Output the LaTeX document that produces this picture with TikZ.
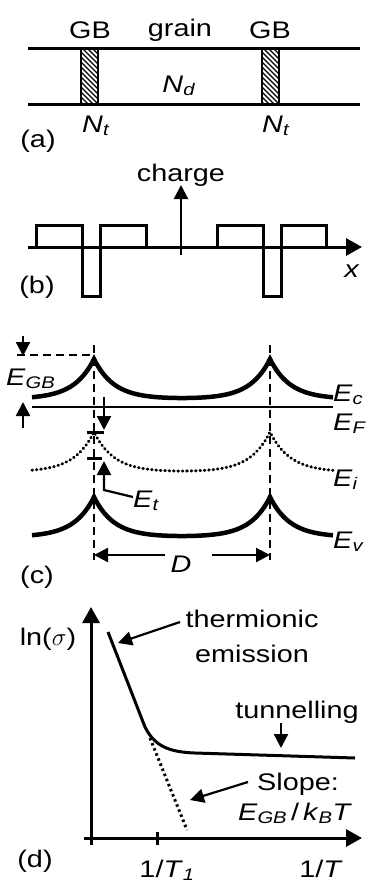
\documentclass[tikz,border=0pt]{standalone}
\usepackage{fontspec}
\setmainfont{Liberation Sans}[FakeStretch=1.2]
\usetikzlibrary{arrows.meta, positioning, calc}
\newcommand{\bandvar}[2]{\textit{#1}\textsubscript{\textit{#2}}}

\begin{document}
\begin{tikzpicture}[x=1pt, y=-1pt,
    every node/.style={font=\fontsize{24}{28}\selectfont, inner sep=0pt},
    lbl/.style={anchor=base},
    heavy/.style={line width=3pt},
    band/.style={line width=4.5pt},
    dots/.style={line width=3pt, line cap=round, dash pattern=on 0.6pt off 3.8pt},
    guide/.style={line width=2pt, dash pattern=on 8pt off 5pt},
    arr/.style={line width=2.2pt, -{Triangle[length=14pt,width=14pt]}},
    bigarr/.style={line width=3pt, -{Triangle[length=16pt,width=17pt]}}]
    \useasboundingbox (0,0) rectangle (371,887);

    % (a) film with two grain boundaries
    \draw[heavy] (28,48) -- (360,48);
    \draw[heavy] (28,104) -- (360,104);
    \foreach \gx in {81,262} {
        \begin{scope}
            \clip (\gx,48) rectangle (\gx+17,104);
            \foreach \k in {0,...,17}
                \draw[line width=1.4pt] (\gx-4,{28+\k*5}) -- ++(30,30);
        \end{scope}
        \draw[line width=1.6pt] (\gx,48) rectangle (\gx+17,104);
    }
    \node[lbl] (gbL) at (90,38) {GB};
    \node[lbl] (grain) at (180,36) {grain};
    \node[lbl] (gbR) at (270,38) {GB};
    \node[lbl] (nd) at (179,92) {\bandvar{N}{d}};
    \node[lbl] (ntL) at (96,132) {\bandvar{N}{t}};
    \node[lbl] (ntR) at (276,132) {\bandvar{N}{t}};
    \node[lbl] (tagA) at (38,147) {(a)};

    % (b) charge distribution
    \draw[bigarr] (28,247) -- (362,247);
    \draw[arr] (181,255) -- (181,185);
    \draw[heavy] (36,247) -- (36,225) -- (82,225) -- (82,296) -- (100,296)
        -- (100,225) -- (146,225) -- (146,247);
    \draw[heavy] (217,247) -- (217,225) -- (263,225) -- (263,296) -- (281,296)
        -- (281,225) -- (326,225) -- (326,247);
    \node[lbl] (charge) at (181,181) {charge};
    \node[lbl] (xlab) at (352,277) {\textit{x}};
    \node[lbl] (tagB) at (37,293) {(b)};

    % (c) band diagram
    \draw[guide] (94,345) -- (94,560);
    \draw[guide] (270,345) -- (270,560);
    \draw[band] plot[domain=32:333, samples=302]
        (\x, {399-40*(exp(-abs(\x-94)/20)+exp(-abs(\x-270)/20))});
    \draw[line width=2.4pt] (32,407) -- (333,407);
    \draw[dots] plot[domain=32:333, samples=302]
        (\x, {472-40*(exp(-abs(\x-94)/20)+exp(-abs(\x-270)/20))});
    \draw[band] plot[domain=32:333, samples=302]
        (\x, {537-40*(exp(-abs(\x-94)/20)+exp(-abs(\x-270)/20))});
    \draw[guide] (17,355) -- (92,355);
    \draw[arr] (23,336) -- (23,356);
    \draw[arr] (23,428) -- (23,402);
    \draw[arr] (104,397) -- (104,430);
    \draw[heavy] (87,432) -- (104,432);
    \draw[heavy] (87,458) -- (102,458);
    \node[lbl, anchor=base west] (egb) at (6,385) {\bandvar{E}{GB}};
    \node[lbl, anchor=base west] (ec) at (333,401) {\bandvar{E}{c}};
    \node[lbl, anchor=base west] (ef) at (333,430) {\bandvar{E}{F}};
    \node[lbl, anchor=base west] (ei) at (333,486) {\bandvar{E}{i}};
    \node[lbl, anchor=base west] (et) at (133,507) {\bandvar{E}{t}};
    \node[lbl, anchor=base west] (ev) at (333,548) {\bandvar{E}{v}};
    \node[lbl] (dlen) at (181,572) {\textit{D}};
    \node[lbl] (tagC) at (37,583) {(c)};
    \coordinate (etBend) at (104,490);
    \coordinate (etTip) at (104,461);
    \coordinate (dL) at (94,555);
    \coordinate (dR) at (270,555);
    \draw[arr] (et.west |- 0,497) -- (etBend) -- (etTip);
    \draw[arr] (165,555) -- (dL);
    \draw[arr] (212,555) -- (dR);

    % (d) conductivity versus 1/T
    \draw[bigarr] (91,845) -- (91,607);
    \draw[bigarr] (84,838) -- (362,838);
    \draw[heavy] (157,832) -- (157,845);
    \draw[heavy] (108,632) -- (145,727) .. controls (155,747) and (170,752) .. (195,753) -- (355,758);
    \draw[line width=3pt, dash pattern=on 2.5pt off 3pt] (150,738) -- (187,830);
    \node[lbl] (lnsig) at (48,645) {ln($\sigma$)};
    \node[lbl] (tagD) at (35,867) {(d)};
    \node[lbl] (invTone) at (167,877) {1/\textit{T}\textsubscript{\textit{1}}};
    \node[lbl] (invT) at (321,877) {1/\textit{T}};
    \node[lbl, align=center, font=\fontsize{24}{35}\selectfont] (thermo) at (252,662) {thermionic\\emission};
    \node[lbl] (tunnel) at (297,718) {tunnelling};
    \node[lbl] (slope) at (298,790) {Slope:};
    \node[lbl] (slopeval) at (295,820) {\bandvar{E}{GB}\,/\,\bandvar{k}{B}\textit{T}};
    \coordinate (thermTip) at (118,643);
    \coordinate (tunTip) at (281,748);
    \coordinate (slopeTip) at (190,800);
    \draw[arr] (180,622) -- (thermTip);
    \draw[arr] (281,723) -- (tunTip);
    \draw[arr] (248,782) -- (slopeTip);
\end{tikzpicture}
\end{document}
